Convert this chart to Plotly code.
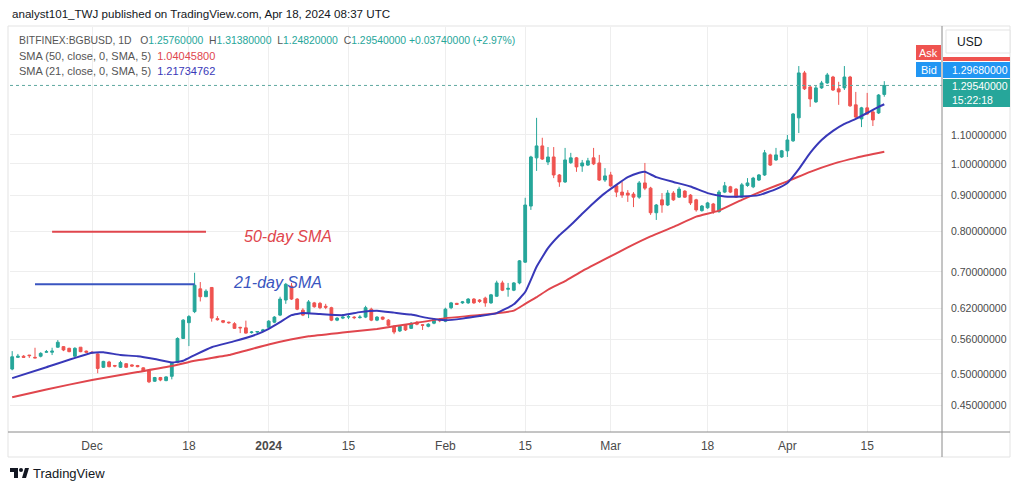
import numpy as np
import pandas as pd
import plotly.graph_objects as go

# ---------------- data ----------------
start_date = "2023-11-17"

opens = [
    0.508, 0.528, 0.530, 0.532, 0.528, 0.530, 0.537, 0.537, 0.546, 0.547,
    0.544, 0.530, 0.546, 0.539, 0.537, 0.534, 0.511, 0.520, 0.514, 0.511,
    0.517, 0.515, 0.514, 0.510, 0.505, 0.488, 0.494, 0.489, 0.496, 0.519,
    0.562, 0.592, 0.614, 0.662, 0.645, 0.665, 0.600, 0.596, 0.593, 0.590,
    0.583, 0.582, 0.573, 0.574, 0.576, 0.583, 0.593, 0.607, 0.638, 0.668,
    0.640, 0.617, 0.611, 0.632, 0.631, 0.625, 0.622, 0.597, 0.601, 0.603,
    0.603, 0.602, 0.603, 0.619, 0.597, 0.603, 0.597, 0.585, 0.576, 0.587,
    0.581, 0.593, 0.588, 0.585, 0.591, 0.597, 0.595, 0.622, 0.631, 0.632,
    0.632, 0.640, 0.638, 0.642, 0.632, 0.646, 0.675, 0.661, 0.659, 0.675,
    0.723, 0.870, 1.020, 1.061, 1.006, 1.023, 0.964, 0.942, 1.004, 1.020,
    0.993, 0.996, 1.020, 1.003, 0.948, 0.964, 0.930, 0.911, 0.908, 0.905,
    0.896, 0.939, 0.923, 0.851, 0.888, 0.873, 0.908, 0.896, 0.914, 0.902,
    0.888, 0.857, 0.865, 0.876, 0.854, 0.911, 0.927, 0.920, 0.896, 0.931,
    0.927, 0.948, 0.964, 1.030, 1.013, 1.023, 1.044, 1.079, 1.164, 1.350,
    1.289, 1.227, 1.285, 1.306, 1.332, 1.281, 1.285, 1.332, 1.215, 1.160,
    1.203, 1.187, 1.183, 1.2576,
]
highs = [
    0.539, 0.534, 0.532, 0.532, 0.545, 0.537, 0.541, 0.545, 0.559, 0.548,
    0.545, 0.546, 0.546, 0.540, 0.539, 0.535, 0.522, 0.522, 0.515, 0.522,
    0.518, 0.516, 0.515, 0.511, 0.506, 0.495, 0.495, 0.496, 0.520, 0.564,
    0.599, 0.607, 0.698, 0.677, 0.661, 0.666, 0.605, 0.597, 0.594, 0.593,
    0.584, 0.596, 0.576, 0.576, 0.580, 0.597, 0.605, 0.645, 0.675, 0.675,
    0.642, 0.621, 0.638, 0.634, 0.634, 0.630, 0.624, 0.603, 0.605, 0.609,
    0.605, 0.607, 0.626, 0.622, 0.605, 0.604, 0.599, 0.587, 0.587, 0.589,
    0.593, 0.595, 0.589, 0.591, 0.601, 0.601, 0.622, 0.634, 0.632, 0.636,
    0.642, 0.642, 0.640, 0.645, 0.651, 0.680, 0.680, 0.675, 0.677, 0.728,
    0.894, 1.027, 1.164, 1.090, 1.057, 1.057, 0.967, 1.054, 1.037, 1.023,
    1.013, 1.020, 1.054, 1.030, 0.986, 0.974, 0.933, 0.942, 0.917, 0.911,
    0.945, 1.003, 0.927, 0.876, 0.908, 0.917, 0.914, 0.927, 0.917, 0.905,
    0.891, 0.873, 0.882, 0.879, 0.917, 0.942, 0.930, 0.923, 0.939, 0.954,
    0.958, 0.967, 1.047, 1.034, 1.054, 1.047, 1.100, 1.183, 1.381, 1.359,
    1.294, 1.294, 1.315, 1.350, 1.337, 1.311, 1.381, 1.337, 1.268, 1.207,
    1.264, 1.195, 1.259, 1.3138,
]
lows = [
    0.506, 0.527, 0.527, 0.527, 0.527, 0.528, 0.536, 0.532, 0.545, 0.539,
    0.537, 0.528, 0.537, 0.536, 0.534, 0.501, 0.510, 0.511, 0.511, 0.510,
    0.510, 0.512, 0.511, 0.503, 0.485, 0.487, 0.488, 0.488, 0.491, 0.518,
    0.561, 0.548, 0.611, 0.635, 0.645, 0.594, 0.596, 0.591, 0.590, 0.580,
    0.572, 0.571, 0.571, 0.572, 0.574, 0.581, 0.591, 0.605, 0.630, 0.638,
    0.617, 0.605, 0.601, 0.622, 0.619, 0.619, 0.595, 0.595, 0.599, 0.599,
    0.599, 0.600, 0.601, 0.595, 0.595, 0.597, 0.585, 0.570, 0.574, 0.576,
    0.580, 0.587, 0.578, 0.583, 0.589, 0.593, 0.593, 0.619, 0.628, 0.630,
    0.630, 0.630, 0.632, 0.624, 0.630, 0.645, 0.657, 0.645, 0.657, 0.672,
    0.721, 0.859, 0.977, 1.013, 0.996, 0.954, 0.927, 0.939, 1.000, 0.974,
    0.974, 0.993, 0.996, 0.945, 0.942, 0.927, 0.896, 0.894, 0.882, 0.867,
    0.891, 0.917, 0.845, 0.831, 0.851, 0.870, 0.885, 0.894, 0.894, 0.873,
    0.854, 0.854, 0.862, 0.848, 0.851, 0.908, 0.908, 0.894, 0.894, 0.927,
    0.923, 0.945, 0.961, 0.993, 1.010, 1.020, 1.023, 1.075, 1.107, 1.276,
    1.207, 1.223, 1.281, 1.302, 1.272, 1.215, 1.276, 1.207, 1.164, 1.129,
    1.175, 1.133, 1.179, 1.2482,
]
closes = [
    0.529, 0.530, 0.528, 0.531, 0.527, 0.535, 0.538, 0.539, 0.555, 0.541,
    0.538, 0.544, 0.538, 0.537, 0.536, 0.509, 0.521, 0.512, 0.513, 0.519,
    0.511, 0.513, 0.512, 0.504, 0.487, 0.494, 0.490, 0.495, 0.518, 0.562,
    0.597, 0.604, 0.670, 0.645, 0.657, 0.601, 0.598, 0.593, 0.592, 0.581,
    0.582, 0.572, 0.574, 0.575, 0.578, 0.595, 0.603, 0.640, 0.672, 0.640,
    0.619, 0.607, 0.634, 0.624, 0.622, 0.623, 0.597, 0.601, 0.603, 0.604,
    0.602, 0.603, 0.622, 0.597, 0.603, 0.599, 0.587, 0.574, 0.585, 0.578,
    0.591, 0.589, 0.587, 0.589, 0.599, 0.596, 0.619, 0.632, 0.629, 0.634,
    0.640, 0.632, 0.635, 0.632, 0.649, 0.675, 0.659, 0.663, 0.675, 0.726,
    0.873, 1.023, 1.061, 1.016, 1.023, 0.964, 0.942, 1.013, 1.020, 0.990,
    1.003, 1.010, 1.000, 0.948, 0.961, 0.930, 0.911, 0.902, 0.902, 0.896,
    0.939, 0.923, 0.851, 0.873, 0.873, 0.908, 0.888, 0.920, 0.896, 0.879,
    0.859, 0.870, 0.879, 0.854, 0.911, 0.930, 0.911, 0.896, 0.933, 0.939,
    0.954, 0.964, 1.037, 0.996, 1.030, 1.044, 1.082, 1.179, 1.350, 1.281,
    1.239, 1.285, 1.306, 1.341, 1.276, 1.268, 1.332, 1.211, 1.167, 1.203,
    1.179, 1.156, 1.255, 1.2954,
]

# SMA lines (day index from start_date, value)
sma21_idx = [0, 6, 14, 16, 19, 22, 25, 28, 30, 32, 35, 39, 43, 45, 47, 49, 51, 54, 58, 61,
             64, 67, 70, 73, 76, 79, 82, 85, 88, 90, 92, 94, 96, 98, 100, 102, 104, 106, 108, 110,
             111, 113, 116, 119, 122, 125, 128, 131, 134, 136, 138, 140, 142, 144, 146, 148, 150, 152, 153]
sma21_val = [0.493, 0.511, 0.536, 0.537, 0.532, 0.530, 0.525, 0.519, 0.522, 0.532,
             0.546, 0.557, 0.570, 0.580, 0.593, 0.607, 0.611, 0.609, 0.607, 0.613,
             0.616, 0.612, 0.608, 0.601, 0.597, 0.600, 0.605, 0.611, 0.629, 0.655,
             0.712, 0.757, 0.790, 0.817, 0.848, 0.879, 0.908, 0.933, 0.957, 0.971,
             0.974, 0.957, 0.942, 0.928, 0.908, 0.898, 0.898, 0.902, 0.920, 0.939,
             0.983, 1.037, 1.082, 1.115, 1.141, 1.160, 1.183, 1.207, 1.2173]
sma50_idx = [0, 6, 14, 22, 28, 32, 38, 45, 52, 58, 64, 70, 76, 82, 88, 90, 92, 94, 97, 100,
             104, 108, 112, 116, 120, 124, 128, 132, 136, 140, 144, 148, 153]
sma50_val = [0.463, 0.475, 0.490, 0.503, 0.513, 0.522, 0.532, 0.551, 0.566, 0.573,
             0.580, 0.590, 0.601, 0.607, 0.616, 0.630, 0.644, 0.660, 0.679, 0.702,
             0.730, 0.759, 0.787, 0.812, 0.840, 0.857, 0.888, 0.917, 0.944, 0.974,
             1.000, 1.020, 1.0405]

price_ticks = [0.45, 0.50, 0.56, 0.62, 0.70, 0.80, 0.90, 1.00, 1.10]
date_ticks = ["2023-12-01", "2023-12-18", "2024-01-01", "2024-01-15", "2024-02-01",
              "2024-02-15", "2024-03-01", "2024-03-18", "2024-04-01", "2024-04-15"]
date_tick_text = ["Dec", "18", "<b>2024</b>", "15", "Feb", "15", "Mar", "18", "Apr", "15"]

ask_price = 1.2968
label_21_level = 0.672
label_50_level = 0.799
label_21_span = ["2023-11-21", "2023-12-19"]
label_50_span = ["2023-11-24", "2023-12-21"]

# ---------------- styling ----------------
GREEN = "#26a69a"
RED = "#ef5350"
SMA50_C = "#e0464d"
SMA21_C = "#3838b8"
GRID = "#eeeeee"
TXT = "#4a4a4a"
FONT = "Liberation Sans"

W, H = 1024, 491
PL, PR, PT, PB = 10, 942, 27, 432  # plot area in pixels


def fx(x):
    return (x - PL) / (PR - PL)


def fy(y):
    return (PB - y) / (PB - PT)


dates = pd.date_range(start_date, periods=len(closes), freq="D")
sma21_dates = dates[sma21_idx]
sma50_dates = dates[sma50_idx]

fig = go.Figure()

fig.add_trace(go.Scatter(
    x=sma50_dates, y=sma50_val, mode="lines",
    line=dict(color=SMA50_C, width=2, shape="spline", smoothing=0.4), hoverinfo="skip"))
fig.add_trace(go.Scatter(
    x=sma21_dates, y=sma21_val, mode="lines",
    line=dict(color=SMA21_C, width=2, shape="spline", smoothing=0.4), hoverinfo="skip"))

fig.add_trace(go.Candlestick(
    x=dates, open=opens, high=highs, low=lows, close=closes,
    increasing=dict(line=dict(color=GREEN, width=1), fillcolor=GREEN),
    decreasing=dict(line=dict(color=RED, width=1), fillcolor=RED),
    whiskerwidth=0))

# last-price dotted line
x_range = [pd.Timestamp("2023-11-16 14:45"), pd.Timestamp("2024-04-28 03:00")]
fig.add_trace(go.Scatter(x=x_range, y=[closes[-1], closes[-1]], mode="lines",
                         line=dict(color="#5fa8a0", width=1, dash="dot"), hoverinfo="skip"))

# label lines
fig.add_trace(go.Scatter(x=label_21_span, y=[label_21_level] * 2, mode="lines",
                         line=dict(color="#3a55c0", width=2), hoverinfo="skip"))
fig.add_trace(go.Scatter(x=label_50_span, y=[label_50_level] * 2, mode="lines",
                         line=dict(color=SMA50_C, width=2), hoverinfo="skip"))

ann = []
shapes = []


def text(t, x, y, size, color, xanchor="left", align="left"):
    ann.append(dict(text=t, x=fx(x), y=fy(y), xref="paper", yref="paper", xanchor=xanchor,
                    yanchor="middle", align=align, showarrow=False,
                    font=dict(family=FONT, size=size, color=color)))


# header
text("analyst101_TWJ published on TradingView.com, Apr 18, 2024 08:37 UTC", 10, 13, 11.6, "#131722")

nb = "&nbsp;&nbsp;"
g = lambda s: f"<span style='color:{GREEN}'>{s}</span>"
line1 = ("BITFINEX:BGBUSD, 1D&nbsp;" + nb + "O" + g("1.25760000") + nb + "H" + g("1.31380000") + nb +
         "L" + g("1.24820000") + nb + "C" + g("1.29540000") + "&nbsp;" + g("+0.03740000 (+2.97%)"))
line2 = "SMA (50, close, 0, SMA, 5)" + nb + f"<span style='color:{SMA50_C}'>1.04045800</span>"
line3 = "SMA (21, close, 0, SMA, 5)" + nb + f"<span style='color:{SMA21_C}'>1.21734762</span>"
text(line1, 17, 40.5, 10.4, "#555555")
text(line2, 17, 56, 11, "#555555")
text(line3, 17, 71.5, 11, "#555555")

# SMA labels
ann.append(dict(text="<i>21-day SMA</i>", x=fx(277), y=fy(282), xref="paper", yref="paper",
                xanchor="center", yanchor="middle", showarrow=False,
                font=dict(family=FONT, size=16, color="#3a55c0")))
ann.append(dict(text="<i>50-day SMA</i>", x=fx(288), y=fy(236), xref="paper", yref="paper",
                xanchor="center", yanchor="middle", showarrow=False,
                font=dict(family=FONT, size=16, color=SMA50_C)))

# frame
shapes.append(dict(type="rect", xref="paper", yref="paper", x0=fx(8), x1=fx(1010), y0=fy(457), y1=fy(26),
                   line=dict(color="#e3e3e3", width=1), layer="below"))
shapes.append(dict(type="line", xref="paper", yref="paper", x0=fx(8), x1=fx(1010), y0=0, y1=0,
                   line=dict(color="#8a8a8a", width=1)))
shapes.append(dict(type="line", xref="paper", yref="paper", x0=1, x1=1, y0=fy(457), y1=fy(26),
                   line=dict(color="#8a8a8a", width=1)))

# USD box
shapes.append(dict(type="rect", xref="paper", yref="paper", x0=fx(946), x1=fx(1010), y0=fy(53), y1=fy(30),
                   fillcolor="white", line=dict(color="#e3e3e3", width=1)))
text("USD", 955, 42, 12, "#131722")

# Ask / Bid tags
shapes.append(dict(type="rect", xref="paper", yref="paper", x0=fx(916), x1=fx(941), y0=fy(60), y1=fy(45),
                   fillcolor=RED, line=dict(width=0)))
text("Ask", 928.5, 52.5, 11, "white", xanchor="center")
shapes.append(dict(type="rect", xref="paper", yref="paper", x0=fx(916), x1=fx(941), y0=fy(77), y1=fy(62),
                   fillcolor="#2196f3", line=dict(width=0)))
text("Bid", 928.5, 69.5, 11, "white", xanchor="center")

# price-axis labels
shapes.append(dict(type="rect", xref="paper", yref="paper", x0=fx(943), x1=fx(1010), y0=fy(61), y1=fy(57),
                   fillcolor=RED, line=dict(width=0)))
shapes.append(dict(type="rect", xref="paper", yref="paper", x0=fx(943), x1=fx(1010), y0=fy(78), y1=fy(62),
                   fillcolor="#2196f3", line=dict(width=0)))
text(f"{ask_price:.8f}", 950, 70, 10.5, "white")
shapes.append(dict(type="rect", xref="paper", yref="paper", x0=fx(943), x1=fx(1010), y0=fy(107), y1=fy(79),
                   fillcolor=GREEN, line=dict(width=0)))
text(f"{closes[-1]:.8f}<br>15:22:18", 950, 93, 10.5, "white")

# TradingView footer (logo approximated with shapes)
shapes.append(dict(type="rect", xref="paper", yref="paper", x0=fx(10), x1=fx(18), y0=fy(472), y1=fy(468),
                   fillcolor="#131722", line=dict(width=0)))
shapes.append(dict(type="rect", xref="paper", yref="paper", x0=fx(14), x1=fx(18), y0=fy(478), y1=fy(468),
                   fillcolor="#131722", line=dict(width=0)))
shapes.append(dict(type="circle", xref="paper", yref="paper", x0=fx(19), x1=fx(23), y0=fy(472), y1=fy(468),
                   fillcolor="#131722", line=dict(width=0)))
shapes.append(dict(type="path", xref="paper", yref="paper",
                   path=f"M {fx(22)} {fy(478)} L {fx(25)} {fy(468)} L {fx(29)} {fy(468)} L {fx(26)} {fy(478)} Z",
                   fillcolor="#131722", line=dict(width=0)))
text("TradingView", 31, 473, 13, "#131722")

fig.update_layout(
    width=W, height=H,
    margin=dict(l=PL, r=W - PR, t=PT, b=H - PB),
    paper_bgcolor="white", plot_bgcolor="white",
    showlegend=False,
    annotations=ann, shapes=shapes,
    xaxis=dict(type="date", range=x_range, rangeslider=dict(visible=False),
               tickvals=date_ticks, ticktext=date_tick_text, showgrid=True, gridcolor=GRID,
               zeroline=False, showline=False, ticks="", ticklabelstandoff=5,
               tickfont=dict(family=FONT, size=12, color=TXT)),
    yaxis=dict(type="log", side="right", range=[np.log10(0.4127), np.log10(1.571)],
               tickvals=price_ticks, ticktext=[f"{v:.8f}" for v in price_ticks],
               showgrid=True, gridcolor=GRID, zeroline=False, showline=False, ticks="",
               ticklabelstandoff=8,
               tickfont=dict(family=FONT, size=10.5, color=TXT)),
)

fig.write_html("out.html", config={"displayModeBar": False},
               post_script="document.body.style.margin='0';document.body.style.padding='0';")
